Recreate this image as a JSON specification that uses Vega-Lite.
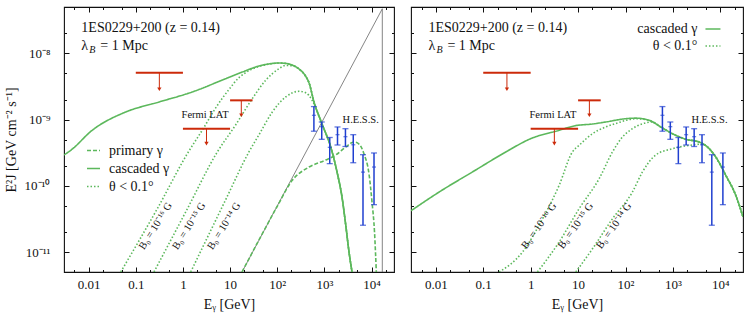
{
  "$schema": "https://vega.github.io/schema/vega-lite/v6.json",
  "padding": {"left": 3, "top": 5, "right": 5, "bottom": 5},
  "spacing": 13,
  "config": {
    "font": "Liberation Serif",
    "view": {"stroke": "#111", "strokeWidth": 1.1},
    "axis": {"labelFont": "Liberation Serif", "labelFontSize": 13, "labelColor": "#111", "titleFont": "Liberation Serif", "titleFontSize": 14, "titleFontWeight": "normal", "titleColor": "#111", "tickColor": "#111", "grid": false, "domain": false},
    "text": {"font": "Liberation Serif", "color": "#111"}
  },
  "resolve": {"scale": {"x": "independent", "y": "independent", "strokeDash": "independent"}, "legend": {"strokeDash": "independent"}},
  "datasets": {
    "gr": [
      {"i": 0, "E": 17.9, "F": 5e-12},
      {"i": 1, "E": 16950, "F": 4.7e-8},
      {"i": 2, "E": 16950, "F": 5e-12}
    ],
    "cl": [
      {"s": "c", "t": "cascaded γ", "E": 0.003, "F": 2.92e-10},
      {"s": "c", "t": "cascaded γ", "E": 0.00416, "F": 3.43e-10},
      {"s": "c", "t": "cascaded γ", "E": 0.0119, "F": 6.89e-10},
      {"s": "c", "t": "cascaded γ", "E": 0.0611, "F": 1.3e-9},
      {"s": "c", "t": "cascaded γ", "E": 0.31, "F": 1.84e-9},
      {"s": "c", "t": "cascaded γ", "E": 1.58, "F": 2.61e-9},
      {"s": "c", "t": "cascaded γ", "E": 8.07, "F": 4.14e-9},
      {"s": "c", "t": "cascaded γ", "E": 18.2, "F": 5.22e-9},
      {"s": "c", "t": "cascaded γ", "E": 41.1, "F": 6.43e-9},
      {"s": "c", "t": "cascaded γ", "E": 70, "F": 6.95e-9},
      {"s": "c", "t": "cascaded γ", "E": 109, "F": 7.14e-9},
      {"s": "c", "t": "cascaded γ", "E": 150, "F": 7.05e-9},
      {"s": "c", "t": "cascaded γ", "E": 206, "F": 6.67e-9},
      {"s": "c", "t": "cascaded γ", "E": 290, "F": 5.8e-9},
      {"s": "c", "t": "cascaded γ", "E": 402, "F": 4.5e-9},
      {"s": "c", "t": "cascaded γ", "E": 472, "F": 3.6e-9},
      {"s": "c", "t": "cascaded γ", "E": 604, "F": 1.84e-9},
      {"s": "c", "t": "cascaded γ", "E": 892, "F": 8.57e-10},
      {"s": "c", "t": "cascaded γ", "E": 1364, "F": 3.85e-10},
      {"s": "c", "t": "cascaded γ", "E": 1855, "F": 1.62e-10},
      {"s": "c", "t": "cascaded γ", "E": 2366, "F": 6.78e-11},
      {"s": "c", "t": "cascaded γ", "E": 2873, "F": 2.39e-11},
      {"s": "c", "t": "cascaded γ", "E": 3334, "F": 1.0e-11},
      {"s": "c", "t": "cascaded γ", "E": 3860, "F": 5e-12},
      {"s": "p", "t": "primary γ", "E": 17.9, "F": 5e-12},
      {"s": "p", "t": "primary γ", "E": 50, "F": 1.98e-11},
      {"s": "p", "t": "primary γ", "E": 100, "F": 4.9e-11},
      {"s": "p", "t": "primary γ", "E": 206, "F": 1.2e-10},
      {"s": "p", "t": "primary γ", "E": 472, "F": 1.92e-10},
      {"s": "p", "t": "primary γ", "E": 1069, "F": 2.45e-10},
      {"s": "p", "t": "primary γ", "E": 1742, "F": 2.92e-10},
      {"s": "p", "t": "primary γ", "E": 2838, "F": 3.85e-10},
      {"s": "p", "t": "primary γ", "E": 4254, "F": 4.58e-10},
      {"s": "p", "t": "primary γ", "E": 5433, "F": 4.27e-10},
      {"s": "p", "t": "primary γ", "E": 6934, "F": 3.02e-10},
      {"s": "p", "t": "primary γ", "E": 8851, "F": 1.51e-10},
      {"s": "p", "t": "primary γ", "E": 10250, "F": 5.7e-11},
      {"s": "p", "t": "primary γ", "E": 11580, "F": 2.01e-11},
      {"s": "p", "t": "primary γ", "E": 12650, "F": 5e-12},
      {"s": "d16", "t": "θ < 0.1°", "E": 0.0479, "F": 5e-12},
      {"s": "d16", "t": "θ < 0.1°", "E": 0.3, "F": 4.8e-11},
      {"s": "d16", "t": "θ < 0.1°", "E": 1.22, "F": 3.0e-10},
      {"s": "d16", "t": "θ < 0.1°", "E": 2.76, "F": 7.5e-10},
      {"s": "d16", "t": "θ < 0.1°", "E": 4.95, "F": 1.5e-9},
      {"s": "d16", "t": "θ < 0.1°", "E": 9.49, "F": 2.85e-9},
      {"s": "d16", "t": "θ < 0.1°", "E": 15.5, "F": 4.3e-9},
      {"s": "d16", "t": "θ < 0.1°", "E": 21.4, "F": 5.1e-9},
      {"s": "d16", "t": "θ < 0.1°", "E": 41.1, "F": 6.35e-9},
      {"s": "d16", "t": "θ < 0.1°", "E": 70, "F": 6.9e-9},
      {"s": "d16", "t": "θ < 0.1°", "E": 109, "F": 7.12e-9},
      {"s": "d16", "t": "θ < 0.1°", "E": 150, "F": 7.05e-9},
      {"s": "d16", "t": "θ < 0.1°", "E": 206, "F": 6.67e-9},
      {"s": "d16", "t": "θ < 0.1°", "E": 290, "F": 5.8e-9},
      {"s": "d16", "t": "θ < 0.1°", "E": 402, "F": 4.5e-9},
      {"s": "d16", "t": "θ < 0.1°", "E": 472, "F": 3.6e-9},
      {"s": "d16", "t": "θ < 0.1°", "E": 604, "F": 1.84e-9},
      {"s": "d16", "t": "θ < 0.1°", "E": 892, "F": 8.57e-10},
      {"s": "d16", "t": "θ < 0.1°", "E": 1364, "F": 3.85e-10},
      {"s": "d16", "t": "θ < 0.1°", "E": 1855, "F": 1.62e-10},
      {"s": "d16", "t": "θ < 0.1°", "E": 2366, "F": 6.78e-11},
      {"s": "d16", "t": "θ < 0.1°", "E": 2873, "F": 2.39e-11},
      {"s": "d16", "t": "θ < 0.1°", "E": 3334, "F": 1.0e-11},
      {"s": "d16", "t": "θ < 0.1°", "E": 3860, "F": 5e-12},
      {"s": "d15", "t": "θ < 0.1°", "E": 0.243, "F": 5e-12},
      {"s": "d15", "t": "θ < 0.1°", "E": 1.2, "F": 4.3e-11},
      {"s": "d15", "t": "θ < 0.1°", "E": 5.36, "F": 3.24e-10},
      {"s": "d15", "t": "θ < 0.1°", "E": 13.1, "F": 8.28e-10},
      {"s": "d15", "t": "θ < 0.1°", "E": 29.6, "F": 2.07e-9},
      {"s": "d15", "t": "θ < 0.1°", "E": 57, "F": 3.92e-9},
      {"s": "d15", "t": "θ < 0.1°", "E": 109, "F": 5.86e-9},
      {"s": "d15", "t": "θ < 0.1°", "E": 151, "F": 6.55e-9},
      {"s": "d15", "t": "θ < 0.1°", "E": 206, "F": 6.5e-9},
      {"s": "d15", "t": "θ < 0.1°", "E": 290, "F": 5.75e-9},
      {"s": "d15", "t": "θ < 0.1°", "E": 402, "F": 4.5e-9},
      {"s": "d15", "t": "θ < 0.1°", "E": 472, "F": 3.6e-9},
      {"s": "d15", "t": "θ < 0.1°", "E": 604, "F": 1.84e-9},
      {"s": "d15", "t": "θ < 0.1°", "E": 892, "F": 8.57e-10},
      {"s": "d15", "t": "θ < 0.1°", "E": 1364, "F": 3.85e-10},
      {"s": "d15", "t": "θ < 0.1°", "E": 1855, "F": 1.62e-10},
      {"s": "d15", "t": "θ < 0.1°", "E": 2366, "F": 6.78e-11},
      {"s": "d15", "t": "θ < 0.1°", "E": 2873, "F": 2.39e-11},
      {"s": "d15", "t": "θ < 0.1°", "E": 3334, "F": 1.0e-11},
      {"s": "d15", "t": "θ < 0.1°", "E": 3860, "F": 5e-12},
      {"s": "d14", "t": "θ < 0.1°", "E": 1.46, "F": 5e-12},
      {"s": "d14", "t": "θ < 0.1°", "E": 8, "F": 6.1e-11},
      {"s": "d14", "t": "θ < 0.1°", "E": 25.1, "F": 3.24e-10},
      {"s": "d14", "t": "θ < 0.1°", "E": 40.8, "F": 5.85e-10},
      {"s": "d14", "t": "θ < 0.1°", "E": 78.7, "F": 1.3e-9},
      {"s": "d14", "t": "θ < 0.1°", "E": 151, "F": 2.19e-9},
      {"s": "d14", "t": "θ < 0.1°", "E": 290, "F": 2.67e-9},
      {"s": "d14", "t": "θ < 0.1°", "E": 402, "F": 2.54e-9},
      {"s": "d14", "t": "θ < 0.1°", "E": 547, "F": 1.97e-9},
      {"s": "d14", "t": "θ < 0.1°", "E": 700, "F": 1.35e-9},
      {"s": "d14", "t": "θ < 0.1°", "E": 892, "F": 8.57e-10},
      {"s": "d14", "t": "θ < 0.1°", "E": 1364, "F": 3.85e-10},
      {"s": "d14", "t": "θ < 0.1°", "E": 1855, "F": 1.62e-10},
      {"s": "d14", "t": "θ < 0.1°", "E": 2366, "F": 6.78e-11},
      {"s": "d14", "t": "θ < 0.1°", "E": 2873, "F": 2.39e-11},
      {"s": "d14", "t": "θ < 0.1°", "E": 3334, "F": 1.0e-11},
      {"s": "d14", "t": "θ < 0.1°", "E": 3860, "F": 5e-12}
    ],
    "cr": [
      {"s": "c", "t": "cascaded γ", "E": 0.003, "F": 4.2e-11},
      {"s": "c", "t": "cascaded γ", "E": 0.0118, "F": 8.07e-11},
      {"s": "c", "t": "cascaded γ", "E": 0.0594, "F": 1.62e-10},
      {"s": "c", "t": "cascaded γ", "E": 0.299, "F": 3.24e-10},
      {"s": "c", "t": "cascaded γ", "E": 1.0, "F": 5.14e-10},
      {"s": "c", "t": "cascaded γ", "E": 3.99, "F": 6.89e-10},
      {"s": "c", "t": "cascaded γ", "E": 8.95, "F": 8.1e-10},
      {"s": "c", "t": "cascaded γ", "E": 20.1, "F": 8.57e-10},
      {"s": "c", "t": "cascaded γ", "E": 38.4, "F": 9.19e-10},
      {"s": "c", "t": "cascaded γ", "E": 101, "F": 1.03e-9},
      {"s": "c", "t": "cascaded γ", "E": 165, "F": 1.05e-9},
      {"s": "c", "t": "cascaded γ", "E": 316, "F": 9.74e-10},
      {"s": "c", "t": "cascaded γ", "E": 554, "F": 7.73e-10},
      {"s": "c", "t": "cascaded γ", "E": 978, "F": 6.12e-10},
      {"s": "c", "t": "cascaded γ", "E": 1866, "F": 5.04e-10},
      {"s": "c", "t": "cascaded γ", "E": 3575, "F": 4.58e-10},
      {"s": "c", "t": "cascaded γ", "E": 5346, "F": 3.85e-10},
      {"s": "c", "t": "cascaded γ", "E": 8000, "F": 2.72e-10},
      {"s": "c", "t": "cascaded γ", "E": 13000, "F": 1.44e-10},
      {"s": "c", "t": "cascaded γ", "E": 21100, "F": 7.19e-11},
      {"s": "c", "t": "cascaded γ", "E": 30000, "F": 3.4e-11},
      {"s": "d16", "t": "θ < 0.1°", "E": 0.217, "F": 5e-12},
      {"s": "d16", "t": "θ < 0.1°", "E": 0.673, "F": 1.0e-11},
      {"s": "d16", "t": "θ < 0.1°", "E": 1.78, "F": 3.18e-11},
      {"s": "d16", "t": "θ < 0.1°", "E": 3.99, "F": 1.02e-10},
      {"s": "d16", "t": "θ < 0.1°", "E": 7.57, "F": 3.24e-10},
      {"s": "d16", "t": "θ < 0.1°", "E": 10.5, "F": 4.08e-10},
      {"s": "d16", "t": "θ < 0.1°", "E": 20.1, "F": 6.12e-10},
      {"s": "d16", "t": "θ < 0.1°", "E": 38.4, "F": 7.73e-10},
      {"s": "d16", "t": "θ < 0.1°", "E": 67.7, "F": 8.88e-10},
      {"s": "d16", "t": "θ < 0.1°", "E": 110, "F": 9.85e-10},
      {"s": "d16", "t": "θ < 0.1°", "E": 165, "F": 1.03e-9},
      {"s": "d16", "t": "θ < 0.1°", "E": 316, "F": 9.74e-10},
      {"s": "d16", "t": "θ < 0.1°", "E": 554, "F": 7.73e-10},
      {"s": "d16", "t": "θ < 0.1°", "E": 978, "F": 6.12e-10},
      {"s": "d16", "t": "θ < 0.1°", "E": 1866, "F": 5.04e-10},
      {"s": "d16", "t": "θ < 0.1°", "E": 3575, "F": 4.58e-10},
      {"s": "d16", "t": "θ < 0.1°", "E": 5346, "F": 3.85e-10},
      {"s": "d16", "t": "θ < 0.1°", "E": 8000, "F": 2.72e-10},
      {"s": "d16", "t": "θ < 0.1°", "E": 13000, "F": 1.44e-10},
      {"s": "d16", "t": "θ < 0.1°", "E": 21100, "F": 7.19e-11},
      {"s": "d16", "t": "θ < 0.1°", "E": 30000, "F": 3.4e-11},
      {"s": "d15", "t": "θ < 0.1°", "E": 1.39, "F": 5e-12},
      {"s": "d15", "t": "θ < 0.1°", "E": 3.99, "F": 1.42e-11},
      {"s": "d15", "t": "θ < 0.1°", "E": 10.5, "F": 4.51e-11},
      {"s": "d15", "t": "θ < 0.1°", "E": 27.8, "F": 1.28e-10},
      {"s": "d15", "t": "θ < 0.1°", "E": 53.1, "F": 3.24e-10},
      {"s": "d15", "t": "θ < 0.1°", "E": 86.3, "F": 5.45e-10},
      {"s": "d15", "t": "θ < 0.1°", "E": 140, "F": 7.28e-10},
      {"s": "d15", "t": "θ < 0.1°", "E": 228, "F": 8.65e-10},
      {"s": "d15", "t": "θ < 0.1°", "E": 370, "F": 9.19e-10},
      {"s": "d15", "t": "θ < 0.1°", "E": 554, "F": 7.73e-10},
      {"s": "d15", "t": "θ < 0.1°", "E": 978, "F": 6.12e-10},
      {"s": "d15", "t": "θ < 0.1°", "E": 1866, "F": 5.04e-10},
      {"s": "d15", "t": "θ < 0.1°", "E": 3575, "F": 4.58e-10},
      {"s": "d15", "t": "θ < 0.1°", "E": 5346, "F": 3.85e-10},
      {"s": "d15", "t": "θ < 0.1°", "E": 8000, "F": 2.72e-10},
      {"s": "d15", "t": "θ < 0.1°", "E": 13000, "F": 1.44e-10},
      {"s": "d15", "t": "θ < 0.1°", "E": 21100, "F": 7.19e-11},
      {"s": "d15", "t": "θ < 0.1°", "E": 30000, "F": 3.4e-11},
      {"s": "d14", "t": "θ < 0.1°", "E": 8.95, "F": 5e-12},
      {"s": "d14", "t": "θ < 0.1°", "E": 20.1, "F": 1.12e-11},
      {"s": "d14", "t": "θ < 0.1°", "E": 53.1, "F": 3.18e-11},
      {"s": "d14", "t": "θ < 0.1°", "E": 140, "F": 8.07e-11},
      {"s": "d14", "t": "θ < 0.1°", "E": 228, "F": 1.62e-10},
      {"s": "d14", "t": "θ < 0.1°", "E": 434, "F": 2.92e-10},
      {"s": "d14", "t": "θ < 0.1°", "E": 978, "F": 3.63e-10},
      {"s": "d14", "t": "θ < 0.1°", "E": 2198, "F": 4.08e-10},
      {"s": "d14", "t": "θ < 0.1°", "E": 4190, "F": 4.25e-10},
      {"s": "d14", "t": "θ < 0.1°", "E": 5346, "F": 3.85e-10},
      {"s": "d14", "t": "θ < 0.1°", "E": 8000, "F": 2.72e-10},
      {"s": "d14", "t": "θ < 0.1°", "E": 13000, "F": 1.44e-10},
      {"s": "d14", "t": "θ < 0.1°", "E": 21100, "F": 7.19e-11},
      {"s": "d14", "t": "θ < 0.1°", "E": 30000, "F": 3.4e-11}
    ],
    "lr": [
      {"s": "lc", "t": "cascaded γ", "E": 4850, "F": 2.33e-8},
      {"s": "lc", "t": "cascaded γ", "E": 10040, "F": 2.33e-8},
      {"s": "lt", "t": "θ < 0.1°", "E": 4850, "F": 1.29e-8},
      {"s": "lt", "t": "θ < 0.1°", "E": 10040, "F": 1.29e-8}
    ],
    "hess": [
      {"E": 600, "c": 1.16e-9, "lo": 6.67e-10, "hi": 1.57e-9},
      {"E": 880, "c": 7.8e-10, "lo": 5.03e-10, "hi": 9.19e-10},
      {"E": 1300, "c": 3.81e-10, "lo": 2.16e-10, "hi": 5.36e-10},
      {"E": 1900, "c": 5.91e-10, "lo": 4.13e-10, "hi": 7.73e-10},
      {"E": 2800, "c": 5.51e-10, "lo": 3.92e-10, "hi": 7.28e-10},
      {"E": 4100, "c": 4.16e-10, "lo": 2.23e-10, "hi": 5.91e-10},
      {"E": 6600, "c": 1.61e-10, "lo": 2.54e-11, "hi": 2.95e-10},
      {"E": 11300, "c": 1.92e-10, "lo": 5.19e-11, "hi": 3.13e-10}
    ],
    "ul": [
      {"E1": 0.1, "E2": 1.0, "Ec": 0.316, "F": 5.09e-9, "Fa": 2.87e-9},
      {"E1": 10, "E2": 30, "Ec": 17.3, "F": 1.95e-9, "Fa": 1.16e-9},
      {"E1": 1, "E2": 10, "Ec": 3.16, "F": 7.28e-10, "Fa": 4.32e-10}
    ],
    "ann": [
      {"E": 2.95, "F": 1.17e-9, "label": "Fermi LAT"}
    ],
    "hl": [
      {"E": 5900, "F": 1.0e-9, "label": "H.E.S.S."}
    ],
    "bl": [
      {"E": 0.264, "F": 2.47e-11, "label": "B₀ = 10⁻¹⁶ G"},
      {"E": 1.35, "F": 2.47e-11, "label": "B₀ = 10⁻¹⁵ G"},
      {"E": 7.43, "F": 2.47e-11, "label": "B₀ = 10⁻¹⁴ G"}
    ],
    "br": [
      {"E": 1.51, "F": 2.47e-11, "label": "B₀ = 10⁻¹⁶ G"},
      {"E": 8.95, "F": 2.47e-11, "label": "B₀ = 10⁻¹⁵ G"},
      {"E": 57.7, "F": 2.47e-11, "label": "B₀ = 10⁻¹⁴ G"}
    ],
    "head": [
      {"E": 0.007, "F": 2.41e-8, "label": "1ES0229+200 (z = 0.14)"}
    ],
    "lam": [
      {"E": 0.007, "F": 1.29e-8, "a": "λ", "b": "B", "c": "= 1 Mpc"}
    ],
    "legR": [
      {"E": 3290, "F": 2.33e-8, "label": "cascaded γ"},
      {"E": 3290, "F": 1.29e-8, "label": "θ < 0.1°"}
    ]
  },
  "hconcat": [
    {
      "width": 330,
      "height": 265,
      "resolve": {"axis": {"x": "independent", "y": "independent"}},
      "layer": [
        {
          "data": {"name": "gr"},
          "mark": {"type": "line", "color": "#666", "strokeWidth": 0.8, "clip": true},
          "encoding": {
            "x": {"field": "E", "type": "quantitative", "scale": {"type": "log", "domain": [0.003, 30000], "nice": false},
              "axis": {"orient": "bottom", "values": [0.01, 0.1, 1, 10, 100, 1000, 10000], "ticks": false, "labelPadding": 6, "title": "Eᵧ [GeV]", "titlePadding": 6,
                "labelExpr": "datum.value < 0.05 ? '0.01' : datum.value < 0.5 ? '0.1' : datum.value < 5 ? '1' : datum.value < 50 ? '10' : datum.value < 500 ? '10²' : datum.value < 5000 ? '10³' : '10⁴'"}},
            "y": {"field": "F", "type": "quantitative", "scale": {"type": "log", "domain": [5e-12, 5e-8], "nice": false},
              "axis": {"orient": "left", "values": [1e-11, 1e-10, 1e-9, 1e-8], "ticks": false, "labelPadding": 14, "title": "E²J [GeV cm⁻² s⁻¹]", "titlePadding": 6,
                "labelExpr": "datum.value < 5e-11 ? '10⁻¹¹' : datum.value < 5e-10 ? '10⁻¹⁰' : datum.value < 5e-9 ? '10⁻⁹' : '10⁻⁸'"}},
            "order": {"field": "i", "type": "quantitative"}
          }
        },
        {
          "data": {"name": "cl"},
          "mark": {"type": "line", "color": "#5cb85c", "strokeWidth": 1.6, "interpolate": "monotone", "clip": true},
          "encoding": {
            "x": {"field": "E", "type": "quantitative", "scale": {"type": "log", "domain": [0.003, 30000], "nice": false},
              "axis": {"orient": "bottom", "values": [0.01, 0.1, 1, 10, 100, 1000, 10000], "labels": false, "title": null, "tickSize": -5}},
            "y": {"field": "F", "type": "quantitative", "scale": {"type": "log", "domain": [5e-12, 5e-8], "nice": false},
              "axis": {"orient": "left", "values": [1e-11, 1e-10, 1e-9, 1e-8], "labels": false, "title": null, "tickSize": -5}},
            "strokeDash": {"field": "t", "type": "nominal",
              "scale": {"domain": ["primary γ", "cascaded γ", "θ < 0.1°"], "range": [[4, 2], [1, 0], [1.5, 2]]},
              "legend": {"orient": "none", "legendX": 22, "legendY": 136, "title": null, "padding": 0, "symbolType": "stroke", "symbolSize": 169, "symbolStrokeColor": "#5cb85c", "symbolStrokeWidth": 1.6, "labelFont": "Liberation Serif", "labelFontSize": 14, "labelColor": "#111", "labelOffset": 8, "rowPadding": 3}},
            "detail": {"field": "s"}
          }
        },
        {
          "data": {"name": "hess"},
          "mark": {"type": "rule", "color": "#1f3fd0", "strokeWidth": 1.5},
          "encoding": {
            "x": {"field": "E", "type": "quantitative", "scale": {"type": "log", "domain": [0.003, 30000], "nice": false},
              "axis": {"orient": "top", "values": [0.01, 0.1, 1, 10, 100, 1000, 10000], "labels": false, "title": null, "tickSize": -5}},
            "y": {"field": "lo", "type": "quantitative", "scale": {"type": "log", "domain": [5e-12, 5e-8], "nice": false},
              "axis": {"orient": "right", "values": [1e-11, 1e-10, 1e-9, 1e-8], "labels": false, "title": null, "tickSize": -5}},
            "y2": {"field": "hi"}
          }
        },
        {
          "data": {"name": "hess"},
          "mark": {"type": "tick", "orient": "horizontal", "color": "#1f3fd0", "size": 6, "thickness": 1.3},
          "encoding": {
            "x": {"field": "E", "type": "quantitative", "scale": {"type": "log", "domain": [0.003, 30000], "nice": false},
              "axis": {"orient": "bottom", "values": [0.005, 0.02, 0.05, 0.2, 0.5, 2, 5, 20, 50, 200, 500, 2000, 5000, 20000], "labels": false, "title": null, "tickSize": -2.5}},
            "y": {"field": "lo", "type": "quantitative", "scale": {"type": "log", "domain": [5e-12, 5e-8], "nice": false},
              "axis": {"orient": "left", "values": [2e-11, 5e-11, 2e-10, 5e-10, 2e-9, 5e-9, 2e-8], "labels": false, "title": null, "tickSize": -2.5}}
          }
        },
        {
          "data": {"name": "hess"},
          "mark": {"type": "tick", "orient": "horizontal", "color": "#1f3fd0", "size": 6, "thickness": 1.3},
          "encoding": {
            "x": {"field": "E", "type": "quantitative", "scale": {"type": "log", "domain": [0.003, 30000], "nice": false},
              "axis": {"orient": "top", "values": [0.005, 0.02, 0.05, 0.2, 0.5, 2, 5, 20, 50, 200, 500, 2000, 5000, 20000], "labels": false, "title": null, "tickSize": -2.5}},
            "y": {"field": "hi", "type": "quantitative", "scale": {"type": "log", "domain": [5e-12, 5e-8], "nice": false},
              "axis": {"orient": "right", "values": [2e-11, 5e-11, 2e-10, 5e-10, 2e-9, 5e-9, 2e-8], "labels": false, "title": null, "tickSize": -2.5}}
          }
        },
        {
          "data": {"name": "hess"},
          "mark": {"type": "tick", "orient": "horizontal", "color": "#1f3fd0", "size": 4, "thickness": 1.2},
          "encoding": {
            "x": {"field": "E", "type": "quantitative", "scale": {"type": "log", "domain": [0.003, 30000], "nice": false}, "axis": null},
            "y": {"field": "c", "type": "quantitative", "scale": {"type": "log", "domain": [5e-12, 5e-8], "nice": false}, "axis": null}
          }
        },
        {
          "data": {"name": "ul"},
          "mark": {"type": "rule", "color": "#cc2a0a", "strokeWidth": 2},
          "encoding": {
            "x": {"field": "E1", "type": "quantitative", "scale": {"type": "log", "domain": [0.003, 30000], "nice": false}, "axis": null},
            "x2": {"field": "E2"},
            "y": {"field": "F", "type": "quantitative", "scale": {"type": "log", "domain": [5e-12, 5e-8], "nice": false}, "axis": null}
          }
        },
        {
          "data": {"name": "ul"},
          "mark": {"type": "rule", "color": "#cc2a0a", "strokeWidth": 1},
          "encoding": {
            "x": {"field": "Ec", "type": "quantitative", "scale": {"type": "log", "domain": [0.003, 30000], "nice": false}, "axis": null},
            "y": {"field": "F", "type": "quantitative", "scale": {"type": "log", "domain": [5e-12, 5e-8], "nice": false}, "axis": null},
            "y2": {"field": "Fa"}
          }
        },
        {
          "data": {"name": "ul"},
          "mark": {"type": "point", "shape": "triangle-down", "filled": true, "color": "#cc2a0a", "size": 18, "opacity": 1},
          "encoding": {
            "x": {"field": "Ec", "type": "quantitative", "scale": {"type": "log", "domain": [0.003, 30000], "nice": false}, "axis": null},
            "y": {"field": "Fa", "type": "quantitative", "scale": {"type": "log", "domain": [5e-12, 5e-8], "nice": false}, "axis": null}
          }
        },
        {
          "data": {"name": "head"},
          "mark": {"type": "text", "align": "left", "baseline": "middle", "fontSize": 14, "font": "Liberation Serif"},
          "encoding": {
            "x": {"field": "E", "type": "quantitative", "scale": {"type": "log", "domain": [0.003, 30000], "nice": false}, "axis": null},
            "y": {"field": "F", "type": "quantitative", "scale": {"type": "log", "domain": [5e-12, 5e-8], "nice": false}, "axis": null},
            "text": {"field": "label"}
          }
        },
        {
          "data": {"name": "lam"},
          "mark": {"type": "text", "align": "left", "baseline": "middle", "fontSize": 14, "font": "Liberation Serif"},
          "encoding": {
            "x": {"field": "E", "type": "quantitative", "scale": {"type": "log", "domain": [0.003, 30000], "nice": false}, "axis": null},
            "y": {"field": "F", "type": "quantitative", "scale": {"type": "log", "domain": [5e-12, 5e-8], "nice": false}, "axis": null},
            "text": {"field": "a"}
          }
        },
        {
          "data": {"name": "lam"},
          "mark": {"type": "text", "align": "left", "baseline": "middle", "fontSize": 10, "fontStyle": "italic", "font": "Liberation Serif", "dx": 8, "dy": 4},
          "encoding": {
            "x": {"field": "E", "type": "quantitative", "scale": {"type": "log", "domain": [0.003, 30000], "nice": false}, "axis": null},
            "y": {"field": "F", "type": "quantitative", "scale": {"type": "log", "domain": [5e-12, 5e-8], "nice": false}, "axis": null},
            "text": {"field": "b"}
          }
        },
        {
          "data": {"name": "lam"},
          "mark": {"type": "text", "align": "left", "baseline": "middle", "fontSize": 14, "font": "Liberation Serif", "dx": 19},
          "encoding": {
            "x": {"field": "E", "type": "quantitative", "scale": {"type": "log", "domain": [0.003, 30000], "nice": false}, "axis": null},
            "y": {"field": "F", "type": "quantitative", "scale": {"type": "log", "domain": [5e-12, 5e-8], "nice": false}, "axis": null},
            "text": {"field": "c"}
          }
        },
        {
          "data": {"name": "ann"},
          "mark": {"type": "text", "align": "center", "baseline": "middle", "fontSize": 10.5, "font": "Liberation Serif"},
          "encoding": {
            "x": {"field": "E", "type": "quantitative", "scale": {"type": "log", "domain": [0.003, 30000], "nice": false}, "axis": null},
            "y": {"field": "F", "type": "quantitative", "scale": {"type": "log", "domain": [5e-12, 5e-8], "nice": false}, "axis": null},
            "text": {"field": "label"}
          }
        },
        {
          "data": {"name": "hl"},
          "mark": {"type": "text", "align": "center", "baseline": "middle", "fontSize": 10.5, "font": "Liberation Serif"},
          "encoding": {
            "x": {"field": "E", "type": "quantitative", "scale": {"type": "log", "domain": [0.003, 30000], "nice": false}, "axis": null},
            "y": {"field": "F", "type": "quantitative", "scale": {"type": "log", "domain": [5e-12, 5e-8], "nice": false}, "axis": null},
            "text": {"field": "label"}
          }
        },
        {
          "data": {"name": "bl"},
          "mark": {"type": "text", "align": "center", "baseline": "middle", "fontSize": 10.5, "font": "Liberation Serif", "angle": 302},
          "encoding": {
            "x": {"field": "E", "type": "quantitative", "scale": {"type": "log", "domain": [0.003, 30000], "nice": false}, "axis": null},
            "y": {"field": "F", "type": "quantitative", "scale": {"type": "log", "domain": [5e-12, 5e-8], "nice": false}, "axis": null},
            "text": {"field": "label"}
          }
        }
      ]
    },
    {
      "width": 332,
      "height": 265,
      "resolve": {"axis": {"x": "independent", "y": "independent"}},
      "layer": [
        {
          "data": {"name": "cr"},
          "mark": {"type": "line", "color": "#5cb85c", "strokeWidth": 1.6, "interpolate": "monotone", "clip": true},
          "encoding": {
            "x": {"field": "E", "type": "quantitative", "scale": {"type": "log", "domain": [0.003, 30000], "nice": false},
              "axis": {"orient": "bottom", "values": [0.01, 0.1, 1, 10, 100, 1000, 10000], "ticks": false, "labelPadding": 6, "title": "Eᵧ [GeV]", "titlePadding": 6,
                "labelExpr": "datum.value < 0.05 ? '0.01' : datum.value < 0.5 ? '0.1' : datum.value < 5 ? '1' : datum.value < 50 ? '10' : datum.value < 500 ? '10²' : datum.value < 5000 ? '10³' : '10⁴'"}},
            "y": {"field": "F", "type": "quantitative", "scale": {"type": "log", "domain": [5e-12, 5e-8], "nice": false},
              "axis": {"orient": "left", "values": [1e-11, 1e-10, 1e-9, 1e-8], "labels": false, "title": null, "tickSize": -5}},
            "strokeDash": {"field": "t", "type": "nominal",
              "scale": {"domain": ["primary γ", "cascaded γ", "θ < 0.1°"], "range": [[4, 2], [1, 0], [1.5, 2]]}, "legend": null},
            "detail": {"field": "s"}
          }
        },
        {
          "data": {"name": "lr"},
          "mark": {"type": "line", "color": "#5cb85c", "strokeWidth": 1.6},
          "encoding": {
            "x": {"field": "E", "type": "quantitative", "scale": {"type": "log", "domain": [0.003, 30000], "nice": false},
              "axis": {"orient": "bottom", "values": [0.01, 0.1, 1, 10, 100, 1000, 10000], "labels": false, "title": null, "tickSize": -5}},
            "y": {"field": "F", "type": "quantitative", "scale": {"type": "log", "domain": [5e-12, 5e-8], "nice": false}, "axis": null},
            "strokeDash": {"field": "t", "type": "nominal",
              "scale": {"domain": ["primary γ", "cascaded γ", "θ < 0.1°"], "range": [[4, 2], [1, 0], [1.5, 2]]}, "legend": null},
            "detail": {"field": "s"}
          }
        },
        {
          "data": {"name": "hess"},
          "mark": {"type": "rule", "color": "#1f3fd0", "strokeWidth": 1.5},
          "encoding": {
            "x": {"field": "E", "type": "quantitative", "scale": {"type": "log", "domain": [0.003, 30000], "nice": false},
              "axis": {"orient": "top", "values": [0.01, 0.1, 1, 10, 100, 1000, 10000], "labels": false, "title": null, "tickSize": -5}},
            "y": {"field": "lo", "type": "quantitative", "scale": {"type": "log", "domain": [5e-12, 5e-8], "nice": false},
              "axis": {"orient": "right", "values": [1e-11, 1e-10, 1e-9, 1e-8], "labels": false, "title": null, "tickSize": -5}},
            "y2": {"field": "hi"}
          }
        },
        {
          "data": {"name": "hess"},
          "mark": {"type": "tick", "orient": "horizontal", "color": "#1f3fd0", "size": 6, "thickness": 1.3},
          "encoding": {
            "x": {"field": "E", "type": "quantitative", "scale": {"type": "log", "domain": [0.003, 30000], "nice": false},
              "axis": {"orient": "bottom", "values": [0.005, 0.02, 0.05, 0.2, 0.5, 2, 5, 20, 50, 200, 500, 2000, 5000, 20000], "labels": false, "title": null, "tickSize": -2.5}},
            "y": {"field": "lo", "type": "quantitative", "scale": {"type": "log", "domain": [5e-12, 5e-8], "nice": false},
              "axis": {"orient": "left", "values": [2e-11, 5e-11, 2e-10, 5e-10, 2e-9, 5e-9, 2e-8], "labels": false, "title": null, "tickSize": -2.5}}
          }
        },
        {
          "data": {"name": "hess"},
          "mark": {"type": "tick", "orient": "horizontal", "color": "#1f3fd0", "size": 6, "thickness": 1.3},
          "encoding": {
            "x": {"field": "E", "type": "quantitative", "scale": {"type": "log", "domain": [0.003, 30000], "nice": false},
              "axis": {"orient": "top", "values": [0.005, 0.02, 0.05, 0.2, 0.5, 2, 5, 20, 50, 200, 500, 2000, 5000, 20000], "labels": false, "title": null, "tickSize": -2.5}},
            "y": {"field": "hi", "type": "quantitative", "scale": {"type": "log", "domain": [5e-12, 5e-8], "nice": false},
              "axis": {"orient": "right", "values": [2e-11, 5e-11, 2e-10, 5e-10, 2e-9, 5e-9, 2e-8], "labels": false, "title": null, "tickSize": -2.5}}
          }
        },
        {
          "data": {"name": "hess"},
          "mark": {"type": "tick", "orient": "horizontal", "color": "#1f3fd0", "size": 4, "thickness": 1.2},
          "encoding": {
            "x": {"field": "E", "type": "quantitative", "scale": {"type": "log", "domain": [0.003, 30000], "nice": false}, "axis": null},
            "y": {"field": "c", "type": "quantitative", "scale": {"type": "log", "domain": [5e-12, 5e-8], "nice": false}, "axis": null}
          }
        },
        {
          "data": {"name": "ul"},
          "mark": {"type": "rule", "color": "#cc2a0a", "strokeWidth": 2},
          "encoding": {
            "x": {"field": "E1", "type": "quantitative", "scale": {"type": "log", "domain": [0.003, 30000], "nice": false}, "axis": null},
            "x2": {"field": "E2"},
            "y": {"field": "F", "type": "quantitative", "scale": {"type": "log", "domain": [5e-12, 5e-8], "nice": false}, "axis": null}
          }
        },
        {
          "data": {"name": "ul"},
          "mark": {"type": "rule", "color": "#cc2a0a", "strokeWidth": 1},
          "encoding": {
            "x": {"field": "Ec", "type": "quantitative", "scale": {"type": "log", "domain": [0.003, 30000], "nice": false}, "axis": null},
            "y": {"field": "F", "type": "quantitative", "scale": {"type": "log", "domain": [5e-12, 5e-8], "nice": false}, "axis": null},
            "y2": {"field": "Fa"}
          }
        },
        {
          "data": {"name": "ul"},
          "mark": {"type": "point", "shape": "triangle-down", "filled": true, "color": "#cc2a0a", "size": 18, "opacity": 1},
          "encoding": {
            "x": {"field": "Ec", "type": "quantitative", "scale": {"type": "log", "domain": [0.003, 30000], "nice": false}, "axis": null},
            "y": {"field": "Fa", "type": "quantitative", "scale": {"type": "log", "domain": [5e-12, 5e-8], "nice": false}, "axis": null}
          }
        },
        {
          "data": {"name": "head"},
          "mark": {"type": "text", "align": "left", "baseline": "middle", "fontSize": 14, "font": "Liberation Serif"},
          "encoding": {
            "x": {"field": "E", "type": "quantitative", "scale": {"type": "log", "domain": [0.003, 30000], "nice": false}, "axis": null},
            "y": {"field": "F", "type": "quantitative", "scale": {"type": "log", "domain": [5e-12, 5e-8], "nice": false}, "axis": null},
            "text": {"field": "label"}
          }
        },
        {
          "data": {"name": "lam"},
          "mark": {"type": "text", "align": "left", "baseline": "middle", "fontSize": 14, "font": "Liberation Serif"},
          "encoding": {
            "x": {"field": "E", "type": "quantitative", "scale": {"type": "log", "domain": [0.003, 30000], "nice": false}, "axis": null},
            "y": {"field": "F", "type": "quantitative", "scale": {"type": "log", "domain": [5e-12, 5e-8], "nice": false}, "axis": null},
            "text": {"field": "a"}
          }
        },
        {
          "data": {"name": "lam"},
          "mark": {"type": "text", "align": "left", "baseline": "middle", "fontSize": 10, "fontStyle": "italic", "font": "Liberation Serif", "dx": 8, "dy": 4},
          "encoding": {
            "x": {"field": "E", "type": "quantitative", "scale": {"type": "log", "domain": [0.003, 30000], "nice": false}, "axis": null},
            "y": {"field": "F", "type": "quantitative", "scale": {"type": "log", "domain": [5e-12, 5e-8], "nice": false}, "axis": null},
            "text": {"field": "b"}
          }
        },
        {
          "data": {"name": "lam"},
          "mark": {"type": "text", "align": "left", "baseline": "middle", "fontSize": 14, "font": "Liberation Serif", "dx": 19},
          "encoding": {
            "x": {"field": "E", "type": "quantitative", "scale": {"type": "log", "domain": [0.003, 30000], "nice": false}, "axis": null},
            "y": {"field": "F", "type": "quantitative", "scale": {"type": "log", "domain": [5e-12, 5e-8], "nice": false}, "axis": null},
            "text": {"field": "c"}
          }
        },
        {
          "data": {"name": "legR"},
          "mark": {"type": "text", "align": "right", "baseline": "middle", "fontSize": 14, "font": "Liberation Serif"},
          "encoding": {
            "x": {"field": "E", "type": "quantitative", "scale": {"type": "log", "domain": [0.003, 30000], "nice": false}, "axis": null},
            "y": {"field": "F", "type": "quantitative", "scale": {"type": "log", "domain": [5e-12, 5e-8], "nice": false}, "axis": null},
            "text": {"field": "label"}
          }
        },
        {
          "data": {"name": "ann"},
          "mark": {"type": "text", "align": "center", "baseline": "middle", "fontSize": 10.5, "font": "Liberation Serif"},
          "encoding": {
            "x": {"field": "E", "type": "quantitative", "scale": {"type": "log", "domain": [0.003, 30000], "nice": false}, "axis": null},
            "y": {"field": "F", "type": "quantitative", "scale": {"type": "log", "domain": [5e-12, 5e-8], "nice": false}, "axis": null},
            "text": {"field": "label"}
          }
        },
        {
          "data": {"name": "hl"},
          "mark": {"type": "text", "align": "center", "baseline": "middle", "fontSize": 10.5, "font": "Liberation Serif"},
          "encoding": {
            "x": {"field": "E", "type": "quantitative", "scale": {"type": "log", "domain": [0.003, 30000], "nice": false}, "axis": null},
            "y": {"field": "F", "type": "quantitative", "scale": {"type": "log", "domain": [5e-12, 5e-8], "nice": false}, "axis": null},
            "text": {"field": "label"}
          }
        },
        {
          "data": {"name": "br"},
          "mark": {"type": "text", "align": "center", "baseline": "middle", "fontSize": 10.5, "font": "Liberation Serif", "angle": 305},
          "encoding": {
            "x": {"field": "E", "type": "quantitative", "scale": {"type": "log", "domain": [0.003, 30000], "nice": false}, "axis": null},
            "y": {"field": "F", "type": "quantitative", "scale": {"type": "log", "domain": [5e-12, 5e-8], "nice": false}, "axis": null},
            "text": {"field": "label"}
          }
        }
      ]
    }
  ]
}
